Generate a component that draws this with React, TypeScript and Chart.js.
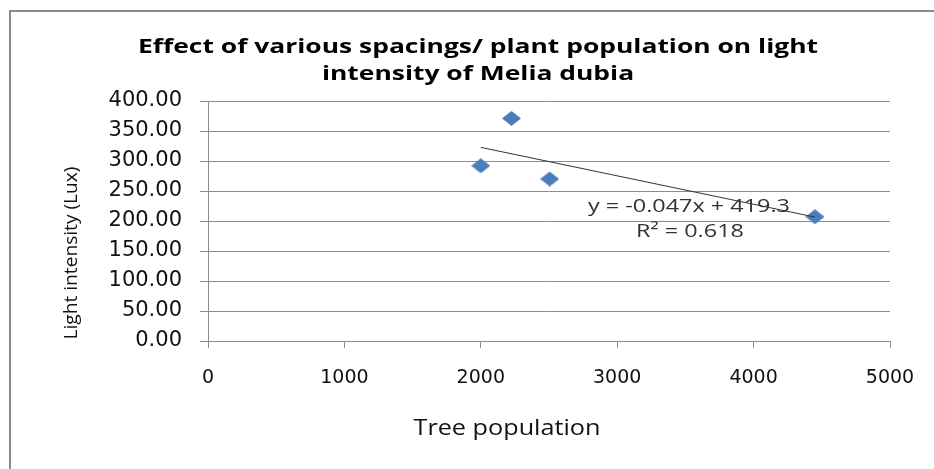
import React, { useEffect, useRef } from "react";
import { Chart, registerables } from "chart.js";

Chart.register(...registerables);

// ---------- data ----------
const TITLE_LINES = [
  "Effect of various spacings/ plant population on light",
  "intensity of Melia dubia",
];
const X_TITLE = "Tree population";
const Y_TITLE = "Light intensity (Lux)";
const TREE_POPULATION = [2000, 2225, 2505, 4450];
const LIGHT_INTENSITY = [292, 371, 270, 207];
const TREND_EQUATION = "y = -0.047x + 419.3";
const TREND_R2 = "R² = 0.618";
const X_MIN = 0;
const X_MAX = 5000;
const X_STEP = 1000;
const Y_MIN = 0;
const Y_MAX = 400;
const Y_STEP = 50;

const SANS = "'Open Sans', 'Noto Sans', sans-serif";
const TICK_FONT = "'DejaVu Sans', sans-serif";

// least squares fit from the data
function linearFit(xs: number[], ys: number[]) {
  const n = xs.length;
  const mx = xs.reduce((a, b) => a + b, 0) / n;
  const my = ys.reduce((a, b) => a + b, 0) / n;
  let sxy = 0;
  let sxx = 0;
  for (let i = 0; i < n; i++) {
    sxy += (xs[i] - mx) * (ys[i] - my);
    sxx += (xs[i] - mx) * (xs[i] - mx);
  }
  const slope = sxy / sxx;
  return { slope, intercept: my - slope * mx };
}

function makeDiamond(w: number, h: number, color: string) {
  const c = document.createElement("canvas");
  c.width = w;
  c.height = h;
  const g = c.getContext("2d")!;
  g.fillStyle = color;
  g.beginPath();
  g.moveTo(w / 2, 0);
  g.lineTo(w, h / 2);
  g.lineTo(w / 2, h);
  g.lineTo(0, h / 2);
  g.closePath();
  g.fill();
  return c;
}

function fitScale(ctx: CanvasRenderingContext2D, text: string, font: string, width: number) {
  ctx.font = font;
  return width / ctx.measureText(text).width;
}

function drawText(
  ctx: CanvasRenderingContext2D,
  text: string,
  cx: number,
  y: number,
  font: string,
  sx: number,
  color: string,
  rotate = 0,
  baseline: CanvasTextBaseline = "alphabetic"
) {
  ctx.save();
  ctx.font = font;
  ctx.fillStyle = color;
  ctx.textAlign = "center";
  ctx.textBaseline = baseline;
  ctx.translate(cx, y);
  if (rotate) ctx.rotate(rotate);
  ctx.scale(sx, 1);
  ctx.fillText(text, 0, 0);
  ctx.restore();
}

const decorPlugin = {
  id: "decor",
  beforeDraw(chart: any) {
    const ctx = chart.ctx as CanvasRenderingContext2D;
    ctx.save();
    ctx.fillStyle = "#ffffff";
    ctx.fillRect(0, 0, chart.width, chart.height);
    ctx.restore();
  },
  afterDraw(chart: any) {
    const ctx = chart.ctx as CanvasRenderingContext2D;
    // frame
    ctx.save();
    ctx.strokeStyle = "#8a8a8a";
    ctx.lineWidth = 2;
    ctx.beginPath();
    ctx.moveTo(10, chart.height);
    ctx.lineTo(10, 11);
    ctx.lineTo(chart.width, 11);
    ctx.stroke();
    ctx.restore();

    // title
    const tFont = `bold 20px ${SANS}`;
    const tsx = fitScale(ctx, TITLE_LINES[0], tFont, 680);
    drawText(ctx, TITLE_LINES[0], 478, 53, tFont, tsx, "#000");
    drawText(ctx, TITLE_LINES[1], 478, 80, tFont, tsx, "#000");

    // axis titles
    const xFont = `22px ${SANS}`;
    drawText(ctx, X_TITLE, 507, 435, xFont, fitScale(ctx, X_TITLE, xFont, 187), "#111");
    const yFont = `18px ${SANS}`;
    drawText(ctx, Y_TITLE, 72, 253, yFont, fitScale(ctx, Y_TITLE, yFont, 173), "#111", -Math.PI / 2, "middle");

    // trendline label
    const eFont = `19px ${SANS}`;
    const esx = fitScale(ctx, TREND_EQUATION, eFont, 202);
    drawText(ctx, TREND_EQUATION, 689, 212, eFont, esx, "#333");
    drawText(ctx, TREND_R2, 690, 237, eFont, esx, "#333");
  },
};

export default function App() {
  const ref = useRef<HTMLCanvasElement | null>(null);

  useEffect(() => {
    let chart: Chart | null = null;
    let cancelled = false;

    const build = () => {
      if (cancelled || !ref.current) return;
      const fit = linearFit(TREE_POPULATION, LIGHT_INTENSITY);
      const xLo = Math.min(...TREE_POPULATION);
      const xHi = Math.max(...TREE_POPULATION);
      const points = TREE_POPULATION.map((x, i) => ({ x, y: LIGHT_INTENSITY[i] }));
      const trend = [
        { x: xLo, y: fit.slope * xLo + fit.intercept },
        { x: xHi, y: fit.slope * xHi + fit.intercept },
      ];
      const diamond = makeDiamond(19, 15, "#4a7ebb");
      const grid = "#8c8c8c";

      chart = new Chart(ref.current, {
        type: "scatter",
        data: {
          datasets: [
            {
              label: "trend",
              data: trend,
              showLine: true,
              borderColor: "#333333",
              borderWidth: 1,
              pointRadius: 0,
              fill: false,
            } as any,
            {
              label: "Light intensity",
              data: points,
              pointStyle: diamond as any,
              pointRadius: 8,
              backgroundColor: "#4a7ebb",
              borderWidth: 0,
            },
          ],
        },
        options: {
          animation: false,
          responsive: true,
          maintainAspectRatio: false,
          layout: { padding: { top: 101, right: 44, bottom: 0, left: 0 } },
          plugins: {
            legend: { display: false },
            title: { display: false },
            tooltip: { enabled: false },
          },
          scales: {
            x: {
              type: "linear",
              min: X_MIN,
              max: X_MAX,
              afterFit: (s: any) => {
                s.height = 128;
              },
              ticks: {
                stepSize: X_STEP,
                padding: 19,
                color: "#111",
                font: { family: TICK_FONT, size: 19 },
                callback: (v: any) => String(v),
                maxRotation: 0,
              },
              grid: {
                drawOnChartArea: false,
                drawTicks: true,
                tickLength: 7,
                color: grid,
                lineWidth: 1,
              },
              border: { display: true, color: grid, width: 1 },
            },
            y: {
              type: "linear",
              min: Y_MIN,
              max: Y_MAX,
              afterFit: (s: any) => {
                s.width = 208;
              },
              ticks: {
                stepSize: Y_STEP,
                padding: 18,
                color: "#111",
                font: { family: TICK_FONT, size: 21 },
                callback: (v: any) => Number(v).toFixed(2),
              },
              grid: {
                drawTicks: true,
                tickLength: 8,
                color: grid,
                lineWidth: 1,
              },
              border: { display: true, color: grid, width: 1 },
            },
          },
        },
        plugins: [decorPlugin],
      });
    };

    const fonts: any = (document as any).fonts;
    if (fonts && fonts.load) {
      Promise.all([
        fonts.load(`20px 'Open Sans'`),
        fonts.load(`bold 20px 'Open Sans'`),
        fonts.load(`20px 'Noto Sans'`),
        fonts.load(`20px 'DejaVu Sans'`),
      ])
        .catch(() => null)
        .then(build);
    } else {
      build();
    }

    return () => {
      cancelled = true;
      if (chart) chart.destroy();
    };
  }, []);

  return (
    <div style={{ position: "fixed", left: 0, top: 0, width: 934, height: 469, background: "#fff" }}>
      <canvas ref={ref} />
    </div>
  );
}
